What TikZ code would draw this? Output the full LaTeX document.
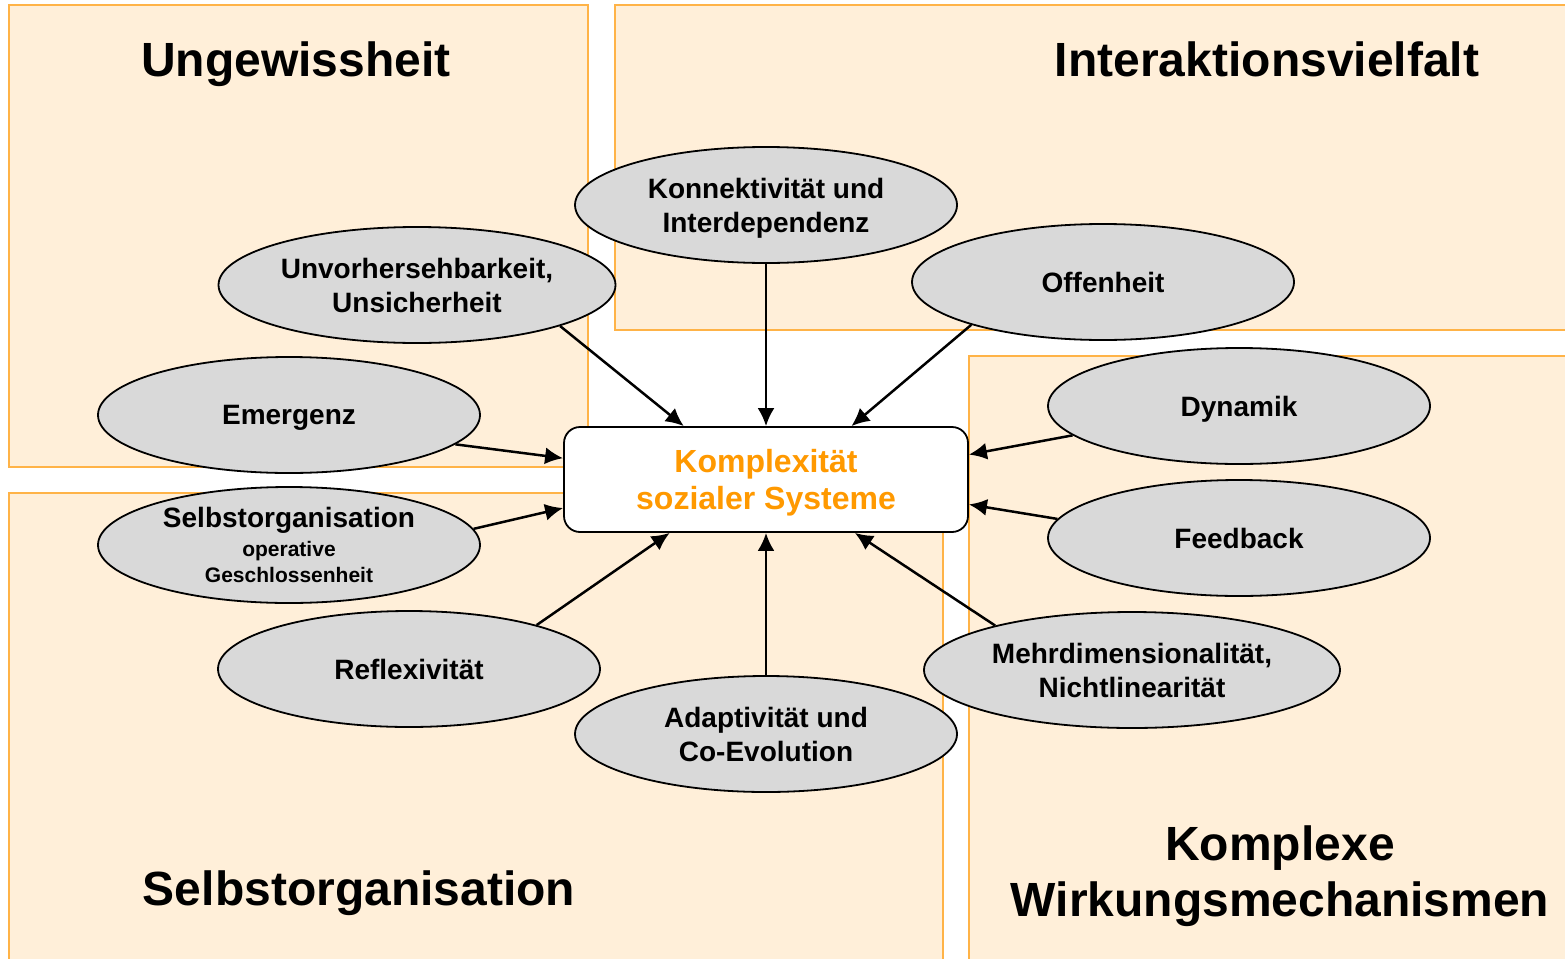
\documentclass[tikz,border=0pt]{standalone}
\usepackage{fontspec}
\setmainfont{Liberation Sans}
\usepackage{tikz}
\usetikzlibrary{arrows.meta,shapes.geometric}

\definecolor{peach}{HTML}{FFEFD9}
\definecolor{peachline}{HTML}{FFB347}
\definecolor{topicgray}{HTML}{D9D9D9}
\definecolor{hotorange}{HTML}{FF9900}

\newcommand{\smalltopic}{\fontsize{21}{26}\selectfont}

\begin{document}
\begin{tikzpicture}[x=1pt, y=-1pt,
  quadrant/.style={draw=peachline, fill=peach, line width=1.2pt},
  title/.style={font=\bfseries\fontsize{48}{56}\selectfont, align=center},
  topic/.style={draw, ellipse, fill=topicgray, line width=1.8pt, inner sep=0pt,
    minimum width=382pt, minimum height=116pt, align=center, text depth=0pt,
    font=\bfseries\fontsize{28}{34}\selectfont},
  link/.style={-{Latex[length=18pt,width=17pt]}, line width=2.5pt}]
\useasboundingbox (0,0) rectangle (1565,958);

% the four fields
\draw[quadrant] (9,5) rectangle (588,467);
\draw[quadrant] (615,5) rectangle (1575,330);
\draw[quadrant] (9,493) rectangle (943,968);
\draw[quadrant] (969,356) rectangle (1575,968);

\node[title, anchor=base] (tung) at (296,77) {Ungewissheit};
\node[title, anchor=base] (tint) at (1267,77) {Interaktionsvielfalt};
\node[title, anchor=base] (tself) at (359,905) {Selbstorganisation};
\node[title] (twirk) at (1280,876) {Komplexe\\Wirkungsmechanismen};

% centre
\node[draw, rectangle, rounded corners=16pt, fill=white, line width=1.8pt,
  minimum width=404pt, minimum height=105pt, align=center, text=hotorange,
  text depth=0pt, font=\bfseries\fontsize{32}{37}\selectfont] (box) at (766,479.5)
  {Komplexität\\sozialer Systeme};

% topics
\node[topic] (konn) at (766,205) {Konnektivität und\\Interdependenz};
\node[topic, minimum width=397pt] (unv) at (417,285) {Unvorhersehbarkeit,\\Unsicherheit};
\node[topic] (off) at (1103,282) {Offenheit};
\node[topic] (emer) at (289,415) {Emergenz};
\node[topic] (dyn) at (1239,406) {Dynamik};
\node[topic] (selb) at (289,545) {Selbstorganisation\\[-5pt]\smalltopic operative\\[-8pt]\smalltopic Geschlossenheit};
\node[topic] (feed) at (1239,538) {Feedback};
\node[topic] (refl) at (409,669) {Reflexivität};
\node[topic, minimum width=416pt] (mehr) at (1132,670) {Mehrdimensionalität,\\Nichtlinearität};
\node[topic] (adap) at (766,734) {Adaptivität und\\Co-Evolution};

% arrows into the centre
\draw[link] (unv.-16) -- (box.147);
\draw[link] (konn.south) -- (box.north);
\draw[link] (off.-162) -- (box.32);
\draw[link] (emer.-10) -- (box.174.5);
\draw[link] (dyn.190) -- (box.7.7);
\draw[link] (selb.5.6) -- (box.-172.8);
\draw[link] (feed.174.7) -- (box.-7.5);
\draw[link] (refl.19.5) -- (box.-151.6);
\draw[link] (adap.north) -- (box.south);
\draw[link] (mehr.162) -- (box.-31.6);

\end{tikzpicture}
\end{document}
